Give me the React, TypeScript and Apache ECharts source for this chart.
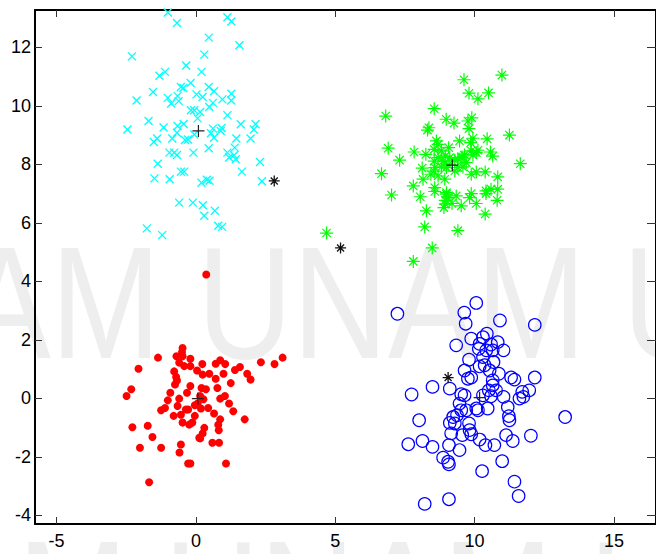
import React, { useEffect, useRef } from "react";
import * as echarts from "echarts";

const xTicks = [-5, 0, 5, 10, 15];
const yTicks = [-4, -2, 0, 2, 4, 6, 8, 10, 12];

const cyanX = [-1.01,-0.68,1.13,1.27,0.46,1.56,-2.30,0.30,-0.35,0.20,-1.11,-1.31,-0.19,-0.54,-0.45,-1.54,0.46,0.65,0.02,0.24,1.27,1.27,0.95,-1.01,-0.66,-0.89,-0.62,-2.13,0.61,0.48,-0.18,-0.06,0.15,0.06,1.13,-1.70,-1.16,-2.46,-0.66,-0.44,-0.68,0.61,0.92,1.61,2.14,2.08,0.89,0.54,0.65,-0.85,-0.39,-0.28,-0.06,-1.39,-1.51,1.45,1.96,0.46,-0.09,-0.95,-0.78,-0.68,1.13,1.39,1.19,1.43,1.37,-1.37,2.30,1.65,-0.54,-0.42,-1.49,-0.94,0.20,0.39,0.49,2.37,-0.60,-0.11,0.25,0.68,0.30,0.80,0.94,-1.76,-1.21];
const cyanY = [13.19,12.83,13.03,12.88,12.33,12.07,11.69,11.75,11.38,11.16,11.16,11.03,10.78,10.64,10.61,10.47,10.64,10.50,10.39,10.30,10.41,10.18,10.22,10.27,10.33,10.08,10.16,10.18,10.10,9.96,9.85,9.85,9.79,9.57,9.68,9.48,9.26,9.19,9.31,9.38,9.08,9.22,9.24,9.37,9.37,9.19,9.14,9.06,8.91,8.88,8.83,8.85,9.02,8.88,8.76,8.88,8.88,8.55,8.40,8.40,8.40,8.32,8.40,8.57,8.23,8.17,8.31,8.02,8.08,7.75,7.75,7.75,7.52,7.49,7.37,7.47,7.44,7.42,6.69,6.69,6.60,6.41,6.24,5.90,5.86,5.81,5.58];

const greenX = [10.98,9.62,9.80,10.12,10.50,6.81,8.55,8.98,9.26,9.76,9.90,8.36,8.31,9.80,11.25,10.45,9.94,9.86,8.63,9.46,6.90,7.83,8.25,8.55,9.07,9.88,10.12,10.57,10.65,7.31,8.69,8.87,9.40,9.58,9.70,8.55,11.64,8.12,8.55,8.43,9.29,6.66,9.88,10.06,10.38,10.83,8.15,8.93,7.80,8.57,8.57,7.02,8.05,8.99,8.95,9.34,9.82,9.88,10.41,10.59,10.83,10.81,10.41,10.06,8.95,9.19,9.52,8.90,8.27,10.38,8.21,9.40,8.48,7.80,4.69,8.69,8.81,8.95,9.11,9.29,9.52,9.64,8.57,8.81,9.05,9.94,10.06,8.69,8.99,9.40,9.58,8.99,9.05];
const greenY = [11.05,10.89,10.43,10.24,10.44,9.65,9.90,9.54,9.41,9.48,9.59,9.25,9.17,9.22,9.00,8.87,8.89,8.74,8.80,8.80,8.55,8.42,8.34,8.51,8.57,8.46,8.48,8.42,8.28,8.14,8.23,8.11,8.19,8.25,8.06,8.11,8.02,7.87,7.77,7.66,7.77,7.68,7.66,7.74,7.74,7.57,7.49,7.49,7.26,7.20,7.07,6.95,6.89,6.98,6.77,6.92,6.86,7.00,7.09,7.15,7.15,6.77,7.00,6.66,6.64,6.66,6.58,6.52,6.41,6.30,5.86,5.73,5.14,4.68,5.65,8.68,8.46,8.28,8.23,8.14,8.23,8.32,7.89,7.91,7.98,8.32,8.40,7.60,7.89,7.89,7.91,7.03,6.86];

const redX = [-0.48,-0.70,-0.48,-0.20,-1.36,-2.06,-0.60,-0.42,-0.20,0.23,0.71,0.87,1.05,2.33,2.82,3.11,1.40,1.58,1.84,1.96,-0.78,-0.71,-0.68,-0.75,0.04,0.24,0.48,0.99,0.71,1.25,-2.32,-2.49,-0.20,0.20,0.36,0.77,-0.92,-1.01,-0.60,-0.32,0.15,0.27,0.87,1.04,1.19,-1.11,-1.25,-0.66,-0.36,0.06,0.18,0.44,0.65,1.34,-0.80,-0.54,-0.04,-0.13,-0.48,-0.24,0.87,0.80,1.75,0.30,0.82,-2.28,-1.73,-1.56,0.24,0.12,0.15,0.59,0.83,-2.01,-1.25,-0.54,-0.59,-0.28,-0.20,1.08,-1.68,-0.04,-0.28,-0.50,0.37];
const redY = [1.72,1.44,1.44,1.35,1.39,1.01,1.22,1.10,1.10,1.17,1.18,1.30,1.17,1.23,1.17,1.39,0.97,1.07,0.84,0.64,0.92,0.73,0.61,0.47,0.95,0.81,0.84,0.84,0.67,0.52,0.31,0.08,0.42,0.35,0.31,0.35,0.19,-0.07,-0.01,0.19,0.08,-0.03,-0.01,0.08,-0.18,-0.33,-0.41,-0.26,-0.38,-0.18,-0.35,-0.33,-0.52,-0.44,-0.60,-0.56,-0.60,-0.83,-0.83,-0.90,-0.72,-0.90,-0.72,-1.01,-1.09,-0.99,-0.94,-1.32,-1.20,-1.35,-1.37,-1.52,-1.52,-1.69,-1.69,-1.58,-1.85,-2.23,-2.23,-2.23,-2.87,-0.24,-0.38,1.58,4.23];

const blueX = [7.23,10.06,9.63,9.68,10.91,12.16,9.34,9.88,10.30,10.44,10.18,10.59,10.83,11.04,10.15,10.30,9.80,10.18,10.68,9.64,9.88,10.54,10.87,11.31,11.43,12.16,8.49,9.11,10.65,10.77,10.51,10.30,10.59,11.04,11.75,11.96,7.74,9.52,9.64,9.46,9.70,10.12,10.47,11.19,11.23,11.25,13.25,8.01,9.11,9.23,9.37,9.80,9.82,9.16,9.56,9.88,10.18,10.39,10.71,11.13,11.37,12.02,7.62,8.13,8.49,9.08,9.46,8.87,9.05,9.08,10.99,10.27,11.43,11.58,9.08,8.21,10.36,10.65,9.52,9.76,10.65,10.42,9.29,11.71,10.06,11.61];
const blueY = [2.89,3.26,2.93,2.55,2.66,2.51,1.81,2.04,2.09,2.21,1.86,1.84,1.92,1.64,1.69,1.41,1.32,1.09,1.24,0.95,0.71,0.95,0.84,0.71,0.64,0.71,0.39,0.33,0.44,0.27,0.27,0.10,0.07,0.05,0.05,0.27,0.13,0.14,0.10,-0.18,-0.41,-0.41,-0.35,-0.30,-0.61,-0.75,-0.64,-0.75,-0.84,-0.64,-0.58,-0.86,-1.09,-1.20,-1.26,-1.23,-1.41,-1.60,-1.60,-1.26,-1.46,-1.28,-1.57,-1.46,-1.66,-1.60,-1.77,-2.03,-2.17,-2.26,-2.15,-2.49,-2.85,-3.34,-3.45,-3.61,1.13,0.61,-0.41,0.67,1.64,1.64,-0.86,0.22,-0.35,-0.01];

const centroidX = [0.09, 9.20, 0.07, 10.18];
const centroidY = [9.14, 7.97, -0.01, 0.02];
const starX = [2.81, 5.19, -1.69, 9.05];
const starY = [7.43, 5.14, -4.31, 0.71];

const zip = (xs: number[], ys: number[]) => xs.map((x, i) => [x, ys[i]]);

const X_PATH = "path://M0,0L10,10M10,0L0,10";
const STAR_PATH = "path://M0,5L10,5M5,0L5,10M1.8,1.8L8.2,8.2M8.2,1.8L1.8,8.2";
const PLUS_PATH = "path://M0,5L10,5M5,0L5,10";

const XMIN = -5.775, XMAX = 16.51, YMIN = -4.297, YMAX = 13.275;
const FONT = "'Liberation Sans', Arial, sans-serif";

export default function App() {
  const ref = useRef<HTMLDivElement>(null);
  useEffect(() => {
    if (!ref.current) return;
    const chart = echarts.init(ref.current, null, { renderer: "svg" });
    const axisLine = { show: true, onZero: false, lineStyle: { color: "#000", width: 2 } };
    const tickStyle = { color: "#333", width: 1 };
    const wm = (y: number) => ({
      type: "text",
      x: -228,
      y,
      scaleX: 0.825,
      z: -10,
      silent: true,
      style: {
        text: "UNAM UNAM UNAM",
        fontSize: 160,
        fontFamily: FONT,
        fill: "#eeeeee",
        verticalAlign: "middle",
        align: "left",
      },
    });
    chart.setOption({
      animation: false,
      backgroundColor: "#fff",
      graphic: [wm(302), { ...wm(596), x: -261 }],
      grid: { left: 35, top: 10, width: 624, height: 514, containLabel: false },
      xAxis: [
        {
          type: "value", min: XMIN, max: XMAX, position: "bottom",
          axisLine, splitLine: { show: false },
          axisTick: { show: true, inside: true, length: 7, customValues: xTicks, lineStyle: tickStyle },
          axisLabel: { customValues: xTicks, fontSize: 18, color: "#000", fontFamily: FONT, margin: 8 },
        },
        {
          type: "value", min: XMIN, max: XMAX, position: "top",
          axisLine, splitLine: { show: false },
          axisTick: { show: true, inside: true, length: 7, customValues: xTicks, lineStyle: tickStyle },
          axisLabel: { show: false },
        },
      ],
      yAxis: [
        {
          type: "value", min: YMIN, max: YMAX, position: "left",
          axisLine, splitLine: { show: false },
          axisTick: { show: true, inside: true, length: 7, customValues: yTicks, lineStyle: tickStyle },
          axisLabel: { customValues: yTicks, fontSize: 18, color: "#000", fontFamily: FONT, margin: 4 },
        },
        {
          type: "value", min: YMIN, max: YMAX, position: "right",
          axisLine, splitLine: { show: false },
          axisTick: { show: true, inside: true, length: 9, customValues: yTicks, lineStyle: tickStyle },
          axisLabel: { show: false },
        },
      ],
      series: [
        {
          type: "scatter", name: "c1", data: zip(cyanX, cyanY), symbol: X_PATH, symbolSize: 8,
          itemStyle: { color: "transparent", borderColor: "#00ffff", borderWidth: 1.3, opacity: 1 },
        },
        {
          type: "scatter", name: "c2", data: zip(greenX, greenY), symbol: STAR_PATH, symbolSize: 13,
          itemStyle: { color: "transparent", borderColor: "#00ff00", borderWidth: 1.2, opacity: 1 },
        },
        {
          type: "scatter", name: "c3", data: zip(redX, redY), symbol: "circle", symbolSize: 8,
          itemStyle: { color: "#ff0000", opacity: 1 },
        },
        {
          type: "scatter", name: "c4", data: zip(blueX, blueY), symbol: "circle", symbolSize: 12.5,
          itemStyle: { color: "transparent", borderColor: "#0000ff", borderWidth: 1.2, opacity: 1 },
        },
        {
          type: "scatter", name: "centroids", data: zip(centroidX, centroidY), symbol: PLUS_PATH, symbolSize: 12,
          itemStyle: { color: "transparent", borderColor: "#222", borderWidth: 1.2, opacity: 1 },
        },
        {
          type: "scatter", name: "stars", data: zip(starX, starY), symbol: STAR_PATH, symbolSize: 11,
          itemStyle: { color: "transparent", borderColor: "#111", borderWidth: 1.3, opacity: 1 },
        },
      ],
    });
    return () => chart.dispose();
  }, []);
  return <div ref={ref} style={{ width: 656, height: 554, position: "absolute", left: 0, top: 0 }} />;
}
